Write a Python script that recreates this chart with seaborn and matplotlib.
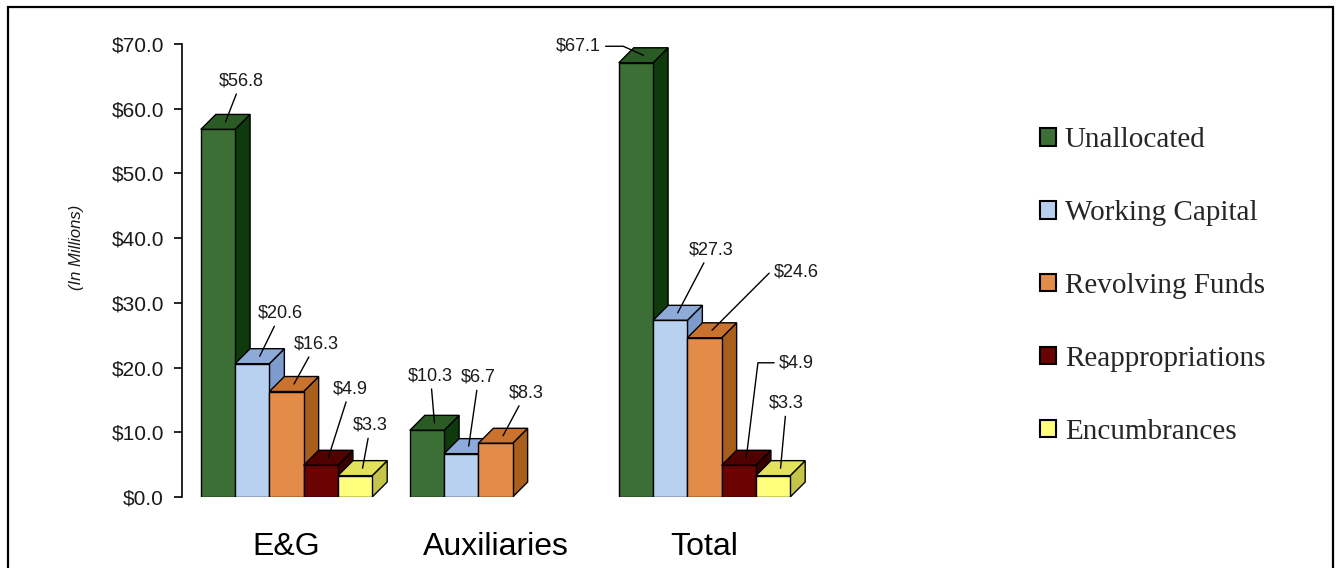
import numpy as np
import pandas as pd
import matplotlib
matplotlib.use("Agg")
import matplotlib.pyplot as plt
from matplotlib.patches import Polygon, Rectangle, Patch
from matplotlib.ticker import FuncFormatter
import seaborn as sns

# ---------------- data ----------------
groups = ["E&G", "Auxiliaries", "Total"]
series = ["Unallocated", "Working Capital", "Revolving Funds", "Reappropriations", "Encumbrances"]
eg_values = [56.8, 20.6, 16.3, 4.9, 3.3]
aux_values = [10.3, 6.7, 8.3]          # only first three series present
total_values = [67.1, 27.3, 24.6, 4.9, 3.3]
y_ticks = [0, 10, 20, 30, 40, 50, 60, 70]

# ---------------- styles ----------------
front_colors = ["#3c6f35", "#b9d1f1", "#e38b49", "#6c0303", "#ffff7c"]
top_colors = ["#2b5b24", "#8eaad8", "#c9732e", "#510000", "#e2e25c"]
side_colors = ["#0d3b0c", "#7d9bcc", "#a95f1b", "#3a0000", "#c4c44a"]

# label offsets (pixels) from top-face midpoint, and connection styles
label_offsets = {
    ("E&G", 0): (16, 41), ("E&G", 1): (21, 43), ("E&G", 2): (22, 40),
    ("E&G", 3): (22, 69), ("E&G", 4): (8, 43),
    ("Auxiliaries", 0): (-4, 47), ("Auxiliaries", 1): (10, 69), ("Auxiliaries", 2): (23, 43),
    ("Total", 0): (-65, 9), ("Total", 1): (33, 63), ("Total", 2): (84, 58),
    ("Total", 3): (50, 95), ("Total", 4): (6, 65),
}
label_conn = {
    ("Total", 0): "angle,angleA=0,angleB=-24,rad=0",
    ("Total", 2): "angle,angleA=0,angleB=45,rad=0",
    ("Total", 3): "angle,angleA=0,angleB=83,rad=0",
}

rows = []
for g, vals in zip(groups, [eg_values, aux_values, total_values]):
    for s, v in zip(series, vals):
        rows.append({"group": g, "series": s, "value": v})
df = pd.DataFrame(rows)

sns.set_theme(style="white")
plt.rcParams["font.family"] = ["Liberation Sans", "DejaVu Sans"]

W, H = 1336, 568
fig = plt.figure(figsize=(W / 100, H / 100), dpi=100)
ax_l, ax_b, ax_r, ax_t = 182 / W, (H - 497) / H, 809 / W, (H - 44) / H
ax = fig.add_axes([ax_l, ax_b, ax_r - ax_l, ax_t - ax_b])

sns.barplot(data=df, x="group", y="value", hue="series", hue_order=series,
            order=groups, palette=front_colors, width=0.82, edgecolor="black",
            linewidth=1.0, saturation=1, legend=False, ax=ax)

ax.set_xlim(-0.5, 2.5)
ax.set_ylim(0, 70)

# depth offsets in data units (15 px each way)
px_per_x = (ax_r - ax_l) * W / 3.0
px_per_y = (ax_t - ax_b) * H / 70.0
dx = 15 / px_per_x
dy = 15 / px_per_y

for k, cont in enumerate(ax.containers):
    for p in cont.patches:
        h = p.get_height()
        if not np.isfinite(h) or h <= 0:
            continue
        x0 = p.get_x()
        w = p.get_width()
        x1 = x0 + w
        z = 2 + k * 0.3
        side = Polygon([(x1, 0), (x1 + dx, dy), (x1 + dx, h + dy), (x1, h)], closed=True,
                       facecolor=side_colors[k], edgecolor="black", linewidth=1.0, zorder=z)
        top = Polygon([(x0, h), (x1, h), (x1 + dx, h + dy), (x0 + dx, h + dy)], closed=True,
                      facecolor=top_colors[k], edgecolor="black", linewidth=1.0, zorder=z + 0.05)
        ax.add_patch(side)
        ax.add_patch(top)
        p.set_zorder(z + 0.1)
        cx = x0 + w / 2
        gi = int(np.argmin([abs(cx - i) for i in range(len(groups))]))
        g = groups[gi]
        off = label_offsets.get((g, k), (15, 40))
        conn = label_conn.get((g, k), "arc3,rad=0")
        ax.annotate(f"${h:.1f}", xy=(cx + dx / 2, h + dy / 2), xytext=off,
                    textcoords="offset pixels", ha="center", va="center",
                    fontsize=13, color="#1a1a1a", zorder=20,
                    arrowprops=dict(arrowstyle="-", color="black", lw=1.0,
                                    shrinkA=1, shrinkB=0, connectionstyle=conn))

# axes styling
for s in ["top", "right", "bottom"]:
    ax.spines[s].set_visible(False)
ax.spines["left"].set_color("black")
ax.spines["left"].set_linewidth(1.2)
ax.set_yticks(y_ticks)
ax.yaxis.set_major_formatter(FuncFormatter(lambda v, _: f"${v:.1f}"))
ax.tick_params(axis="y", which="major", left=True, length=6, width=1.2, color="black",
               direction="out", pad=7, labelsize=15, labelcolor="#1a1a1a")
ax.tick_params(axis="x", length=0, pad=25, labelsize=23, labelcolor="black")
ax.set_xlabel("")
ax.set_ylabel("(In Millions)", fontsize=12, fontstyle="italic", color="#1a1a1a")
ax.yaxis.set_label_coords(-0.156, 0.55)
ax.grid(False)
ax.set_facecolor("white")

# legend
handles = [Patch(facecolor=c, edgecolor="black", linewidth=1.5) for c in front_colors]
fig.legend(handles, series, loc="center left", bbox_to_anchor=(1040 / W, 1 - 286 / H),
           bbox_transform=fig.transFigure, frameon=False, borderpad=0, borderaxespad=0,
           handlelength=0.55, handleheight=0.55, handletextpad=0.3, labelspacing=1.61,
           prop={"family": "Liberation Serif", "size": 21})

# outer border
fig.add_artist(Rectangle((8 / W, -0.02), (1333 - 8) / W, (H - 7) / H + 0.02,
                         transform=fig.transFigure, fill=False, edgecolor="black",
                         linewidth=1.6))

fig.savefig("out.png", dpi=100, facecolor="white")
